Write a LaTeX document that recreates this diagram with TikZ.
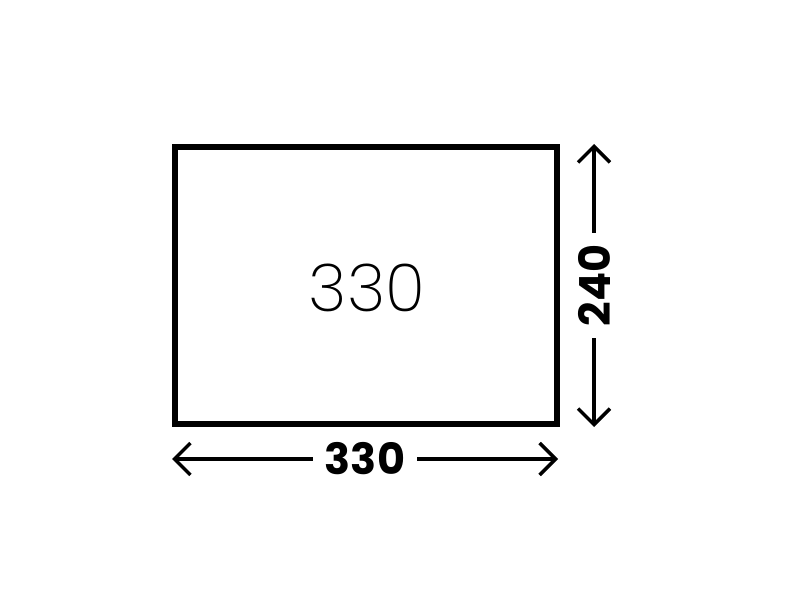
\documentclass[tikz,border=0pt]{standalone}
\usepackage{fontspec}
\setmainfont{Poppins}
\newfontfamily\lightfont{Poppins ExtraLight}
\usetikzlibrary{arrows.meta}
\begin{document}
\begin{tikzpicture}[x=1pt,y=1pt,
  boxstyle/.style={draw=black, line width=6pt, minimum width=382.5pt, minimum height=277pt, inner sep=0pt},
  dimline/.style={line width=3.5pt, {Straight Barb[length=16pt,width=32pt]}-{Straight Barb[length=16pt,width=32pt]}},
  dimlabel/.style={fill=white, font=\fontsize{43}{43}\selectfont\bfseries, inner xsep=12pt, inner ysep=0pt}
]
\useasboundingbox (0,0) rectangle (800,600);
\node[boxstyle] (box) at (365.75,314.5) {};
\node[font=\fontsize{66}{66}\selectfont\lightfont] (area) at (367,312) {330};
\coordinate (hl) at (172,141);
\coordinate (hr) at (558,141);
\coordinate (vt) at (594,456);
\coordinate (vb) at (594,173);
\draw[dimline] (hl) -- node[dimlabel] (wlab) {330} (hr);
\draw[dimline] (vb) -- node[dimlabel, rotate=90] (hlab) {240} (vt);
\end{tikzpicture}
\end{document}
